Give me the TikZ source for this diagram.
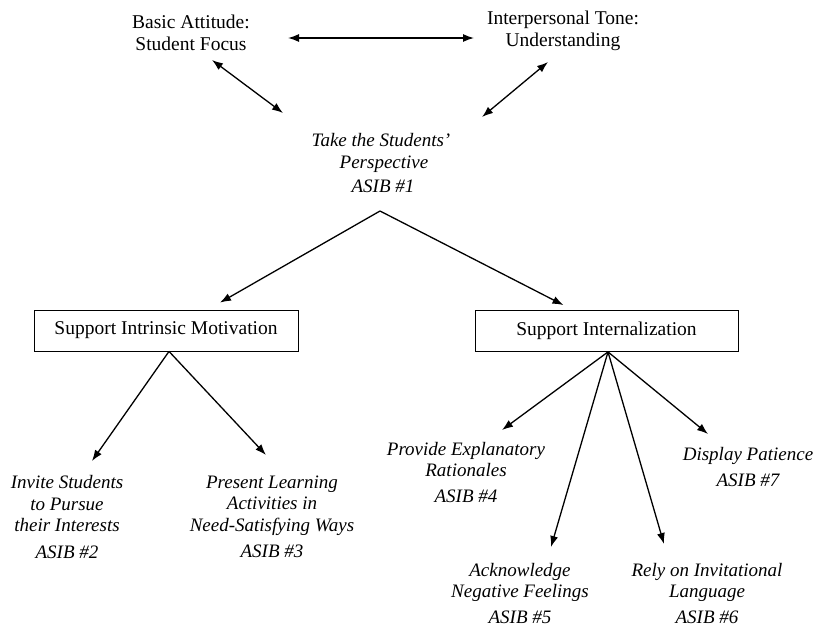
\documentclass[tikz,border=0pt]{standalone}
\usepackage{fontspec}
\setmainfont{Liberation Serif}
\usetikzlibrary{arrows.meta}
\tikzset{
    txt/.style={align=center, inner sep=0pt, font=\fontsize{19.5}{21.5}\selectfont},
    itxt/.style={txt, font=\fontsize{19}{21.5}\selectfont\itshape},
    boxnode/.style={draw, line width=0.8pt, minimum height=41pt, inner sep=0pt,
        font=\fontsize{19.5}{21.5}\selectfont},
    arr/.style={line width=1.3pt, -{Latex[length=11pt,width=8pt]}},
    darr/.style={line width=1.3pt, {Latex[length=11pt,width=8pt]}-{Latex[length=11pt,width=8pt]}}
}

\begin{document}
\begin{tikzpicture}[x=1pt,y=-1pt]
    \useasboundingbox (0,0) rectangle (813,627);

    % Top level
    \node[txt] (basic) at (191,33) {Basic Attitude:\\Student Focus};
    \node[txt] (tone) at (563,31) {Interpersonal Tone:\\Understanding};
    \node[itxt] (take) at (381,163) {Take the Students'\\\hspace{6pt}Perspective\\[3pt]\hspace{4pt}ASIB \#1};

    % Boxes
    \node[boxnode, minimum width=264pt] (sim) at (166,330.5) {Support Intrinsic Motivation};
    \node[boxnode, minimum width=263pt] (sin) at (606.5,331) {Support Internalization};

    % Leaves
    \node[itxt] (inv) at (67,517) {Invite Students\\to Pursue\\their Interests\\[5pt]ASIB \#2};
    \node[itxt] (pres) at (272,517) {Present Learning\\Activities in\\Need-Satisfying Ways\\[5pt]ASIB \#3};
    \node[itxt] (prov) at (466,472) {Provide Explanatory\\Rationales\\[4pt]ASIB \#4};
    \node[itxt] (ack) at (520,593) {Acknowledge\\Negative Feelings\\[4pt]ASIB \#5};
    \node[itxt] (rely) at (707,593) {Rely on Invitational\\Language\\[4pt]ASIB \#6};
    \node[itxt] (disp) at (748,467) {Display Patience\\[4pt]ASIB \#7};

    % Two-way arrows at the top
    \draw[darr] ([xshift=97pt,yshift=-5pt]basic.center) -- ([xshift=-89pt,yshift=-7pt]tone.center);
    \draw[darr] ([xshift=21pt,yshift=-27pt]basic.center) -- ([xshift=-98pt,yshift=50pt]take.center);
    \draw[darr] ([xshift=-15pt,yshift=-31pt]tone.center) -- ([xshift=101pt,yshift=46pt]take.center);

    % Perspective to the two boxes
    \draw[arr] ([xshift=-1pt,yshift=-48pt]take.center) -- ([xshift=54pt,yshift=7pt]sim.north);
    \draw[arr] ([xshift=-1pt,yshift=-48pt]take.center) -- ([xshift=-43pt,yshift=5pt]sin.north);

    % Intrinsic motivation
    \draw[arr] ([xshift=3pt]sim.south) -- ([xshift=25pt,yshift=56pt]inv.center);
    \draw[arr] ([xshift=3pt]sim.south) -- ([xshift=-6pt,yshift=62pt]pres.center);

    % Internalization
    \draw[arr] ([xshift=1.5pt]sin.south) -- ([xshift=36pt,yshift=42pt]prov.center);
    \draw[arr] ([xshift=1.5pt]sin.south) -- ([xshift=31pt,yshift=46pt]ack.center);
    \draw[arr] ([xshift=1.5pt]sin.south) -- ([xshift=-43pt,yshift=49pt]rely.center);
    \draw[arr] ([xshift=1.5pt]sin.south) -- ([xshift=-40pt,yshift=33pt]disp.center);

\end{tikzpicture}
\end{document}
